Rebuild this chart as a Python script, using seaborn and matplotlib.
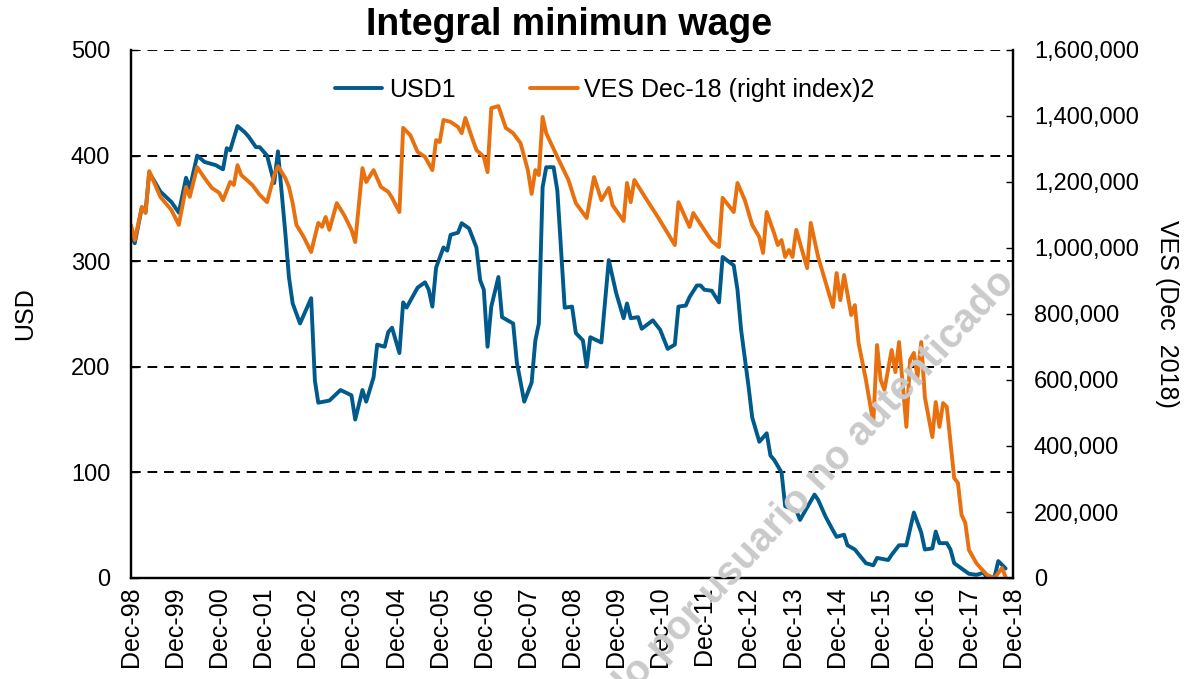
import numpy as np
import pandas as pd
import matplotlib
matplotlib.use("Agg")
import matplotlib.pyplot as plt
import matplotlib.dates as mdates
from matplotlib.ticker import FuncFormatter, MultipleLocator
import seaborn as sns

# months counted from Dec-98 (0 = Dec-98)
usd_month = [0, 1, 3, 4, 5, 8, 11, 13, 15, 16, 18, 20, 23, 25, 26, 27, 29, 31, 32, 34,
             35, 37, 39, 40, 42, 43, 44, 46, 49, 50, 51, 54, 57, 60, 61, 63, 64, 66, 67, 69,
             70, 71, 73, 74, 75, 78, 80, 81, 82, 83, 85, 86, 87, 89, 90, 92, 94, 95, 96, 97,
             98, 100, 101, 104, 105, 107, 109, 110, 111, 112, 113, 115, 116, 118, 120, 121, 123, 124, 125, 128,
             130, 132, 134, 135, 136, 138, 139, 142, 144, 146, 148, 149, 151, 152, 154, 155, 156, 158, 160, 161,
             164, 165, 166, 168, 169, 171, 173, 174, 175, 177, 178, 181, 182, 186, 187, 189, 191, 192, 194, 195,
             197, 200, 202, 203, 206, 207, 209, 211, 213, 215, 216, 218, 219, 220, 222, 223, 224, 226, 228, 230,
             232, 233, 235, 236, 238]
usd_value = [325, 317, 351, 347, 384, 366, 356, 346, 379, 369, 400, 394, 391, 387, 407, 405, 428, 422, 418, 408,
             408, 400, 374, 404, 327, 285, 260, 241, 265, 187, 166, 168, 178, 173, 150, 178, 167, 190, 221, 219,
             233, 237, 213, 261, 256, 275, 280, 273, 257, 294, 313, 310, 325, 327, 336, 331, 313, 282, 273, 219,
             257, 285, 247, 241, 204, 167, 185, 225, 241, 370, 389, 389, 367, 256, 257, 232, 225, 200, 228, 223,
             301, 270, 246, 260, 246, 247, 236, 244, 235, 217, 221, 257, 258, 266, 277, 277, 273, 272, 261, 304,
             296, 273, 235, 182, 152, 129, 137, 116, 112, 100, 68, 64, 55, 79, 74, 58, 45, 39, 41, 31,
             27, 14, 12, 19, 17, 22, 31, 31, 62, 43, 27, 28, 44, 33, 33, 27, 14, 9, 4, 3,
             5, 0, 1, 16, 9]

ves_month = [0, 1, 3, 4, 5, 8, 11, 13, 15, 16, 18, 20, 22, 24, 25, 27, 28, 29, 30, 33,
             35, 37, 39, 40, 42, 43, 44, 45, 47, 49, 51, 52, 53, 54, 56, 58, 60, 61, 63, 64,
             66, 68, 70, 71, 73, 74, 76, 78, 80, 82, 83, 84, 85, 87, 89, 90, 91, 93, 94, 96,
             97, 98, 100, 102, 104, 106, 108, 109, 110, 111, 112, 113, 116, 119, 121, 124, 126, 128, 130, 131,
             134, 135, 136, 137, 140, 143, 146, 148, 149, 152, 153, 156, 158, 160, 161, 164, 165, 167, 169, 171,
             172, 173, 175, 176, 177, 178, 179, 180, 181, 184, 185, 187, 191, 192, 193, 194, 196, 197, 198, 200,
             202, 203, 204, 205, 207, 208, 209, 211, 212, 213, 214, 215, 216, 218, 219, 220, 221, 222, 224, 225,
             226, 227, 228, 230, 231, 233, 235, 237, 238]
ves_value = [1070, 1024, 1124, 1106, 1233, 1155, 1115, 1070, 1185, 1155, 1245, 1212, 1182, 1167, 1145, 1200, 1191, 1251, 1221, 1191,
             1161, 1139, 1221, 1248, 1212, 1185, 1136, 1070, 1033, 988, 1076, 1064, 1094, 1055, 1136, 1100, 1055, 1018, 1242, 1200,
             1236, 1185, 1170, 1152, 1109, 1364, 1342, 1291, 1276, 1236, 1327, 1321, 1388, 1382, 1367, 1348, 1394, 1327, 1297, 1276,
             1230, 1424, 1430, 1364, 1348, 1318, 1236, 1164, 1236, 1221, 1397, 1348, 1276, 1206, 1136, 1091, 1215, 1145, 1182, 1130,
             1082, 1197, 1139, 1206, 1152, 1100, 1045, 1009, 1139, 1064, 1106, 1055, 1021, 1003, 1152, 1109, 1197, 1145, 1070, 1033,
             985, 1109, 1045, 1009, 1024, 973, 994, 973, 1055, 939, 1076, 973, 821, 924, 842, 918, 797, 827, 712, 600,
             470, 706, 600, 570, 691, 624, 715, 458, 661, 682, 609, 715, 548, 427, 533, 458, 530, 518, 303, 288,
             191, 167, 85, 45, 33, 9, 0, 30, 3]  # thousands of VES

tick_years = list(range(1998, 2019))

start = pd.Timestamp("1998-12-01")
usd_df = pd.DataFrame({"date": [start + pd.DateOffset(months=m) for m in usd_month],
                       "USD": usd_value})
ves_df = pd.DataFrame({"date": [start + pd.DateOffset(months=m) for m in ves_month],
                       "VES": np.array(ves_value) * 1000})

sns.set_theme(style="white")
plt.rcParams['font.family'] = ['Liberation Sans', 'DejaVu Sans']
plt.rcParams['text.color'] = 'black'
plt.rcParams['axes.labelcolor'] = 'black'
plt.rcParams['xtick.color'] = 'black'
plt.rcParams['ytick.color'] = 'black'

blue = "#005a8c"
orange = "#e8700f"

fig = plt.figure(figsize=(11.89, 6.79), dpi=100)
ax = fig.add_axes([131 / 1189, 1 - 578 / 679, (1013 - 131) / 1189, 528 / 679])
ax2 = ax.twinx()

# watermark
fig.text(1008 / 1189, 1 - 276 / 679, "Documento descargado por usuario no autenticado",
         rotation=47, rotation_mode='anchor', ha='right', va='center',
         fontsize=29, fontweight='bold', color='#cacaca', zorder=0)

sns.lineplot(data=usd_df, x="date", y="USD", ax=ax, color=blue, linewidth=2.8, label="USD1")
sns.lineplot(data=ves_df, x="date", y="VES", ax=ax2, color=orange, linewidth=2.8,
             label="VES Dec-18 (right index)2")

ax.set_ylim(0, 500)
ax2.set_ylim(0, 1600000)
ax.set_xlim(pd.Timestamp("1998-12-01"), pd.Timestamp("2018-12-01"))
ax.yaxis.set_major_locator(MultipleLocator(100))
ax2.yaxis.set_major_locator(MultipleLocator(200000))
ax2.yaxis.set_major_formatter(FuncFormatter(lambda v, p: f"{int(v):,}"))

ax.set_xticks([pd.Timestamp(f"{y}-12-01") for y in tick_years])
ax.xaxis.set_major_formatter(mdates.DateFormatter("%b-%y"))
ax.tick_params(axis='x', labelrotation=90, labelsize=18, length=0, pad=6)
ax.tick_params(axis='y', labelsize=17, direction='in', length=5, width=1, pad=15)
ax2.tick_params(axis='y', labelsize=17, direction='in', length=5, width=1, pad=15)

ax.grid(axis='y', color='black', linestyle=(0, (5, 3.5)), linewidth=1.4)
ax.set_axisbelow(True)
ax.set_xlabel("")
ax.set_ylabel("USD", fontsize=18, labelpad=24)
ax2.set_ylabel("VES (Dec  2018)", fontsize=18, rotation=270, labelpad=29)

for a in (ax, ax2):
    a.spines['top'].set_visible(False)
    for s in ('left', 'right', 'bottom'):
        a.spines[s].set_color('black')
        a.spines[s].set_linewidth(1.6)

h1, l1 = ax.get_legend_handles_labels()
h2, l2 = ax2.get_legend_handles_labels()
ax.get_legend().remove()
ax2.get_legend().remove()
ax2.legend(h1 + h2, l1 + l2, loc='upper center', bbox_to_anchor=(0.537, 0.99), ncol=2,
           frameon=False, fontsize=18, handlelength=1.9, columnspacing=3.0, handletextpad=0.25)

fig.text(569 / 1189, 1 - 25 / 679, "Integral minimun wage", ha='center', va='center',
         fontsize=27, fontweight='bold')

fig.savefig("out.png", dpi=100)
